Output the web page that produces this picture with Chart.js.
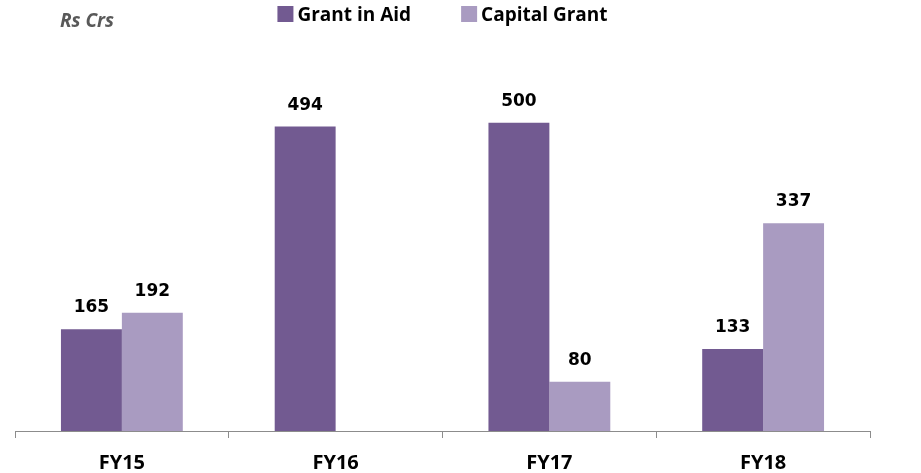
<!DOCTYPE html>
<html>
<head>
<meta charset="utf-8">
<script src="https://cdn.jsdelivr.net/npm/chart.js@4/dist/chart.umd.min.js"></script>
<style>
html,body{margin:0;padding:0;background:#fff;}
#wrap{width:921px;height:473px;position:relative;}
</style>
</head>
<body>
<div id="wrap"><canvas id="c" width="921" height="473"></canvas></div>
<script>
const categories = ["FY15", "FY16", "FY17", "FY18"];
const grantInAid = [165, 494, 500, 133];
const capitalGrant = [192, null, 80, 337];
const seriesNames = ["Grant in Aid", "Capital Grant"];
const unitLabel = "Rs Crs";

const DARK = "#725A91";
const LIGHT = "#A99BC1";

const overlayPlugin = {
  id: "overlay",
  afterDraw(chart) {
    const ctx = chart.ctx;
    ctx.save();
    // data labels
    ctx.font = "bold 17px 'DejaVu Sans'";
    ctx.fillStyle = "#000";
    ctx.textAlign = "center";
    ctx.textBaseline = "alphabetic";
    chart.data.datasets.forEach((ds, i) => {
      const meta = chart.getDatasetMeta(i);
      meta.data.forEach((bar, j) => {
        const v = ds.data[j];
        if (v === null || v === undefined) return;
        ctx.fillText(String(v), bar.x, bar.y - 17);
      });
    });
    // category labels
    const xs = chart.scales.x;
    ctx.font = "bold 20px 'Open Sans'";
    chart.data.labels.forEach((lab, j) => {
      ctx.fillText(lab, xs.getPixelForValue(j), 469);
    });
    // unit label
    ctx.font = "italic bold 19px 'Open Sans'";
    ctx.fillStyle = "#595959";
    ctx.textAlign = "left";
    ctx.fillText(unitLabel, 60, 27);
    // legend
    ctx.font = "bold 19px 'Open Sans'";
    const items = chart.data.datasets.map(d => ({label: d.label, color: d.backgroundColor}));
    const box = 16, gapText = 4, gapItem = 50;
    let total = 0;
    items.forEach((it, k) => {
      it.w = ctx.measureText(it.label).width;
      total += box + gapText + it.w + (k < items.length - 1 ? gapItem : 0);
    });
    let x = (chart.chartArea.left + chart.chartArea.right) / 2 - total / 2;
    items.forEach(it => {
      ctx.fillStyle = it.color;
      ctx.fillRect(x, 6, box, box);
      ctx.fillStyle = "#000";
      ctx.fillText(it.label, x + box + gapText, 21);
      x += box + gapText + it.w + gapItem;
    });
    ctx.restore();
  }
};

new Chart(document.getElementById("c"), {
  type: "bar",
  data: {
    labels: categories,
    datasets: [
      {label: seriesNames[0], data: grantInAid, backgroundColor: DARK},
      {label: seriesNames[1], data: capitalGrant, backgroundColor: LIGHT}
    ]
  },
  options: {
    responsive: false,
    animation: false,
    devicePixelRatio: 1,
    layout: {padding: {left: 15, right: 51, top: 60, bottom: 35}},
    plugins: {legend: {display: false}, tooltip: {enabled: false}},
    datasets: {bar: {categoryPercentage: 0.57, barPercentage: 1.0}},
    scales: {
      x: {
        offset: true,
        grid: {display: true, drawOnChartArea: false, drawTicks: true, tickLength: 7, color: "#8C8C8C", offset: true},
        border: {display: true, color: "#8C8C8C", width: 1},
        ticks: {display: false}
      },
      y: {display: false, min: 0, max: 602}
    }
  },
  plugins: [overlayPlugin]
});
</script>
</body>
</html>
